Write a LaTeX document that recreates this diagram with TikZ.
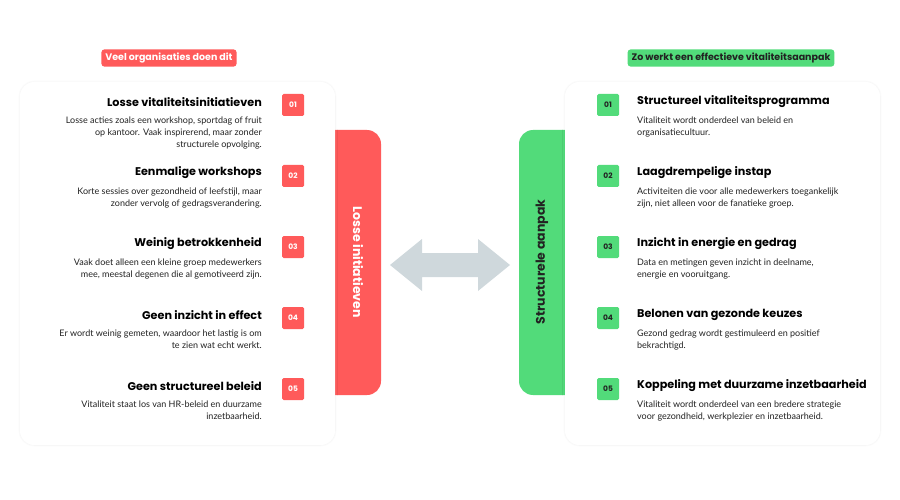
\documentclass[tikz,border=0pt]{standalone}
\usepackage{fontspec}
\setmainfont{Poppins}
\newfontfamily\bodyf{Lato}
\usetikzlibrary{shadows.blur}
\definecolor{red1}{HTML}{FF5A5A}
\definecolor{grn1}{HTML}{52DB7A}
\definecolor{gry}{HTML}{CFD8DC}
\definecolor{txt}{HTML}{222222}
\tikzset{
 x=1pt,y=-1pt,
 card/.style={fill=white,rounded corners=14pt,blur shadow={shadow blur steps=10,shadow xshift=0pt,shadow yshift=0pt,shadow blur extra rounding=4pt,shadow opacity=7}},
 head/.style={font=\fontsize{11.2}{13}\selectfont\bfseries,text=black,inner sep=0pt},
 bodyL/.style={font=\bodyf\fontsize{9}{12}\selectfont,text=txt,align=right,inner sep=0pt,anchor=north east},
 bodyR/.style={font=\bodyf\fontsize{9}{12}\selectfont,text=txt,align=left,inner sep=0pt,anchor=north west},
 numL/.style={fill=red1,text=white,rounded corners=1.5pt,minimum width=22pt,minimum height=22pt,font=\fontsize{7.5}{8}\selectfont\bfseries,inner sep=0pt},
 numR/.style={fill=grn1,text=txt,rounded corners=1.5pt,minimum width=22pt,minimum height=22pt,font=\fontsize{7.5}{8}\selectfont\bfseries,inner sep=0pt},
 tag/.style={rounded corners=3pt,font=\fontsize{9.5}{10}\selectfont\bfseries,inner xsep=4pt,inner ysep=3.5pt},
}
\begin{document}
\begin{tikzpicture}
\useasboundingbox (0,0) rectangle (900,500);
% bars
\fill[red1,rounded corners=14pt] (300,130) rectangle (381,395);
\fill[grn1,rounded corners=14pt] (519,130) rectangle (600,395);
% cards
\fill[card] (20,82) rectangle (335,445);
\fill[card] (565,82) rectangle (880,445);
\node[rotate=-90,text=white,font=\fontsize{12.5}{13}\selectfont\bfseries] (lt) at (358,262) {Losse initiatieven};
\node[rotate=90,text=txt,font=\fontsize{12.5}{13}\selectfont\bfseries] (rt) at (542,262) {Structurele aanpak};
% arrow
\coordinate (al) at (390,265);
\coordinate (ar) at (510,265);
\fill[gry] (al) -- ++(32,-26) -- ++(0,14) -- ++(56,0) -- ++(0,-14) -- (ar) -- ++(-32,26) -- ++(0,-14) -- ++(-56,0) -- ++(0,14) -- cycle;
% tags
\node[tag,fill=red1,text=white] (tl) at (169,58) {Veel organisaties doen dit};
\node[tag,fill=grn1,text=txt] (tr) at (731,58) {Zo werkt een effectieve vitaliteitsaanpak};
% left items
\foreach \n/\y/\h/\b in {
 01/102/Losse vitaliteitsinitiatieven/{Losse acties zoals een workshop, sportdag of fruit\\op kantoor. Vaak inspirerend, maar zonder\\structurele opvolging.},
 02/173/Eenmalige workshops/{Korte sessies over gezondheid of leefstijl, maar\\zonder vervolg of gedragsverandering.},
 03/244/Weinig betrokkenheid/{Vaak doet alleen een kleine groep medewerkers\\mee, meestal degenen die al gemotiveerd zijn.},
 04/315/Geen inzicht in effect/{Er wordt weinig gemeten, waardoor het lastig is om\\te zien wat echt werkt.},
 05/386/Geen structureel beleid/{Vitaliteit staat los van HR-beleid en duurzame\\inzetbaarheid.}}{
 \node[numL] (nl\n) at (293,\y+3) {\n};
 \node[head,anchor=east] (hl\n) at (262,\y) {\h};
 \node[bodyL] (bl\n) at (262,\y+15) {\b};
}
% right items
\foreach \n/\y/\h/\b in {
 01/102/Structureel vitaliteitsprogramma/{Vitaliteit wordt onderdeel van beleid en\\organisatiecultuur.},
 02/173/Laagdrempelige instap/{Activiteiten die voor alle medewerkers toegankelijk\\zijn, niet alleen voor de fanatieke groep.},
 03/244/Inzicht in energie en gedrag/{Data en metingen geven inzicht in deelname,\\energie en vooruitgang.},
 04/315/Belonen van gezonde keuzes/{Gezond gedrag wordt gestimuleerd en positief\\bekrachtigd.},
 05/386/Koppeling met duurzame inzetbaarheid/{Vitaliteit wordt onderdeel van een bredere strategie\\voor gezondheid, werkplezier en inzetbaarheid.}}{
 \node[numR] (nr\n) at (608,\y+3) {\n};
 \node[head,anchor=west] (hr\n) at (637,\y) {\h};
 \node[bodyR] (br\n) at (637,\y+15) {\b};
}
\end{tikzpicture}
\end{document}
